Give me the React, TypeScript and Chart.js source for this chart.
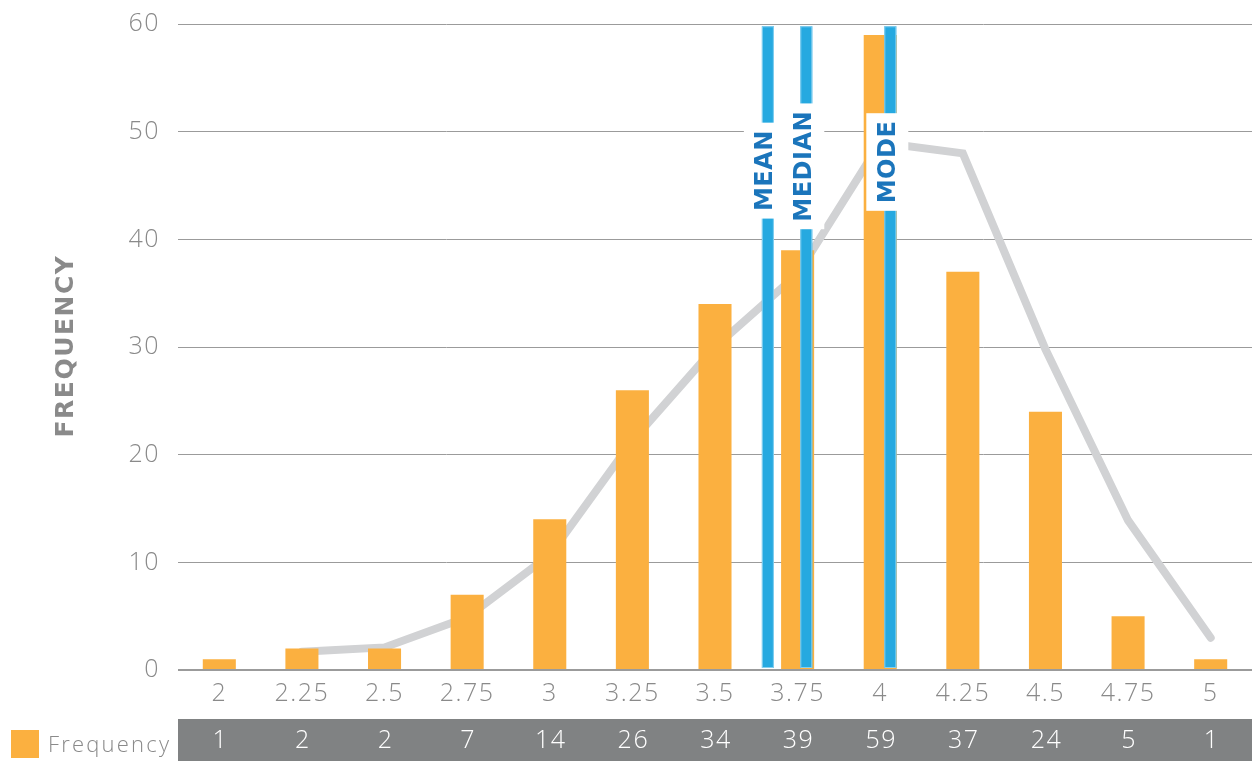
import React, { useEffect, useRef } from "react";
import { Chart, registerables } from "chart.js";

Chart.register(...registerables);

const categories = ["2", "2.25", "2.5", "2.75", "3", "3.25", "3.5", "3.75", "4", "4.25", "4.5", "4.75", "5"];
const frequency = [1, 2, 2, 7, 14, 26, 34, 39, 59, 37, 24, 5, 1];
const curve = [null, 1.7, 2.1, 4.9, 10.7, 21.3, 30, 36.8, 49, 48, 29.8, 13.9, 3.0];
const markerNames = ["MEAN", "MEDIAN", "MODE"];
const markerIndex = [6.64, 7.105, 8.122];
const markerLabelValue = [46.4, 46.8, 47.2];
const yTicks = [0, 10, 20, 30, 40, 50, 60];

const FONT = "'Open Sans', sans-serif";
const BOLD_FONT = "'DejaVu Sans', sans-serif";
const ORANGE = "#fbb040";
const GREY_TEXT = "#8a8a8a";

const overlayPlugin = {
  id: "overlay",
  beforeDraw(chart: any) {
    (chart.ctx as any).letterSpacing = "1.5px";
  },
  afterDatasetsDraw(chart: any) {
    const ctx = chart.ctx;
    const x = chart.scales.x;
    const y = chart.scales.y;
    const top = y.getPixelForValue(60) + 2;
    const bottom = y.getPixelForValue(0) - 2;
    ctx.save();
    markerNames.forEach((name, i) => {
      const px = x.getPixelForValue(markerIndex[i]);
      ctx.fillStyle = "#26a9e0";
      ctx.fillRect(px - 6, top, 12, bottom - top);
      ctx.strokeStyle = "#86d0f0";
      ctx.lineWidth = 1;
      ctx.strokeRect(px - 6 + 0.5, top + 0.5, 11, bottom - top - 1);
    });
    (ctx as any).letterSpacing = "0.5px";
    markerNames.forEach((name, i) => {
      const px = x.getPixelForValue(markerIndex[i]) - 3;
      const py = y.getPixelForValue(markerLabelValue[i]);
      ctx.font = `bold 24px ${BOLD_FONT}`;
      const w = ctx.measureText(name).width;
      const h = w + 15;
      ctx.fillStyle = "#ffffff";
      ctx.fillRect(px - 21, py - h / 2, 42, h);
    });
    markerNames.forEach((name, i) => {
      const px = x.getPixelForValue(markerIndex[i]) - 3;
      const py = y.getPixelForValue(markerLabelValue[i]);
      ctx.save();
      ctx.translate(px, py);
      ctx.rotate(-Math.PI / 2);
      ctx.font = `bold 24px ${BOLD_FONT}`;
      ctx.fillStyle = "#1b75bb";
      ctx.textAlign = "center";
      ctx.textBaseline = "middle";
      ctx.fillText(name, 0, 1);
      ctx.restore();
    });
    ctx.restore();
  },
  afterDraw(chart: any) {
    const ctx = chart.ctx;
    const x = chart.scales.x;
    const area = chart.chartArea;
    ctx.save();
    (ctx as any).letterSpacing = "1.5px";
    // data table band
    ctx.fillStyle = "#808283";
    ctx.fillRect(area.left, 719, area.right - area.left, 42);
    ctx.fillStyle = "#ffffff";
    ctx.font = `300 25px ${FONT}`;
    ctx.textAlign = "center";
    ctx.textBaseline = "middle";
    frequency.forEach((v, i) => {
      ctx.fillText(String(v), x.getPixelForValue(i) + 1, 741);
    });
    // legend
    ctx.fillStyle = ORANGE;
    ctx.fillRect(11, 730, 28, 28);
    ctx.fillStyle = GREY_TEXT;
    ctx.font = `300 22px ${FONT}`;
    (ctx as any).letterSpacing = "2.2px";
    ctx.textAlign = "left";
    ctx.fillText("Frequency", 48, 746);
    // y title
    ctx.translate(66, 346);
    ctx.rotate(-Math.PI / 2);
    ctx.font = `bold 25px ${BOLD_FONT}`;
    (ctx as any).letterSpacing = "1.5px";
    ctx.fillStyle = GREY_TEXT;
    ctx.textAlign = "center";
    ctx.textBaseline = "middle";
    ctx.fillText("FREQUENCY", 0, 0);
    ctx.restore();
    (ctx as any).letterSpacing = "0px";
  },
};

export default function App() {
  const ref = useRef<HTMLCanvasElement | null>(null);
  useEffect(() => {
    document.body.style.margin = "0";
    const canvas = ref.current!;
    const chart = new Chart(canvas, {
      type: "bar",
      data: {
        labels: categories,
        datasets: [
          {
            type: "line",
            label: "Curve",
            data: curve as any,
            borderColor: "#d1d2d4",
            borderWidth: 8,
            pointRadius: 0,
            tension: 0,
            borderCapStyle: "round",
            order: 2,
          } as any,
          {
            type: "bar",
            label: "Frequency",
            data: frequency,
            backgroundColor: ORANGE,
            barPercentage: 0.4,
            categoryPercentage: 1,
            order: 1,
          },
        ],
      },
      options: {
        responsive: false,
        animation: false,
        layout: { padding: { top: 23, right: 0, left: 0, bottom: 0 } },
        plugins: { legend: { display: false }, tooltip: { enabled: false } },
        scales: {
          x: {
            grid: { display: false, drawTicks: false },
            border: { display: false },
            ticks: { color: GREY_TEXT, font: { family: FONT, size: 25, weight: 300 as any }, padding: 9 },
            afterFit: (s: any) => {
              s.height = 91;
            },
          },
          y: {
            min: 0,
            max: 60,
            afterBuildTicks: (s: any) => {
              s.ticks = yTicks.map((v) => ({ value: v }));
            },
            grid: {
              color: "#9b9b9b",
              lineWidth: (c: any) => (c.tick && c.tick.value === 0 ? 2 : 1),
              drawTicks: false,
            },
            border: { display: false },
            ticks: {
              color: GREY_TEXT,
              font: { family: FONT, size: 25, weight: 300 as any, lineHeight: 0.5 },
              padding: 18,
            },
            afterFit: (s: any) => {
              s.width = 178;
            },
          },
        },
      },
      plugins: [overlayPlugin],
    });
    return () => chart.destroy();
  }, []);
  return <canvas ref={ref} width={1252} height={761} style={{ display: "block" }} />;
}
